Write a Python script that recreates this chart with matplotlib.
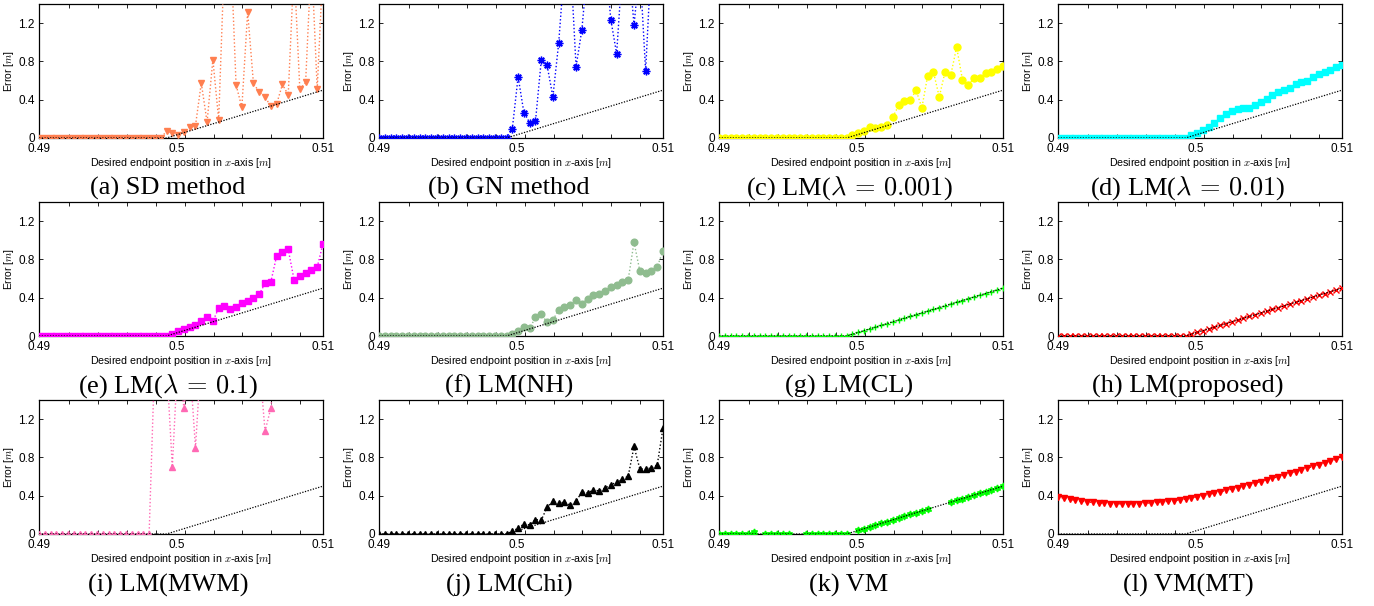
import numpy as np
import matplotlib
matplotlib.use("Agg")
import matplotlib.pyplot as plt

# ---------------- data ----------------
x_pos = np.linspace(0.49, 0.51, 50)          # desired endpoint positions
ref_x = [0.49, 0.49898, 0.51]                 # reference (black dotted) line
ref_y = [0.0, 0.0, 0.5]

sd_err = [0.0] * 22 + [0.07, 0.05, 0.035, 0.065, 0.11, 0.13, 0.575, 0.165, 0.82, 0.19,
                       1.9, 2.1, 0.555, 0.32, 1.32, 0.57, 0.48, 0.43, 0.33, 0.355,
                       0.56, 0.45, 1.8, 0.51, 0.58, 1.9, 0.51, 1.8]
gn_err = [0.0] * 22 + [0.005, 0.095, 0.64, 0.265, 0.16, 0.175, 0.815, 0.76, 0.43, 0.99,
                       1.8, 1.9, 0.745, 1.13, 1.8, 2.0, 2.1, 1.9, 1.235, 0.88,
                       1.8, 1.9, 1.18, 1.8, 0.70, 1.9, 2.0, 1.8]
lm001_err = [0.0] * 22 + [0.005, 0.03, 0.05, 0.077, 0.11, 0.10, 0.11, 0.14, 0.22, 0.34,
                          0.39, 0.395, 0.50, 0.315, 0.65, 0.69, 0.43, 0.69, 0.66, 0.95,
                          0.61, 0.55, 0.63, 0.625, 0.68, 0.69, 0.72, 0.755]
lm01_err = [0.0] * 22 + [0.0, 0.03, 0.055, 0.085, 0.115, 0.16, 0.21, 0.255, 0.28, 0.30,
                         0.31, 0.31, 0.345, 0.38, 0.41, 0.445, 0.48, 0.505, 0.52, 0.56,
                         0.58, 0.60, 0.64, 0.665, 0.69, 0.71, 0.74, 0.76]
lm1_err = [0.0] * 22 + [0.0, 0.02, 0.05, 0.075, 0.095, 0.12, 0.16, 0.195, 0.155, 0.29,
                        0.31, 0.28, 0.305, 0.34, 0.365, 0.40, 0.435, 0.55, 0.565, 0.835,
                        0.88, 0.905, 0.59, 0.63, 0.655, 0.685, 0.72, 0.965]
nh_err = [0.0] * 22 + [0.0, 0.025, 0.05, 0.09, 0.08, 0.195, 0.225, 0.145, 0.165, 0.275,
                       0.305, 0.32, 0.38, 0.335, 0.39, 0.43, 0.44, 0.475, 0.51, 0.535,
                       0.565, 0.59, 0.98, 0.68, 0.66, 0.68, 0.72, 0.89]
cl_err = [0.0] * 22 + [0.0, 0.019, 0.037, 0.056, 0.074, 0.093, 0.111, 0.130, 0.148, 0.167,
                       0.185, 0.204, 0.222, 0.241, 0.259, 0.278, 0.296, 0.315, 0.333, 0.352,
                       0.370, 0.389, 0.407, 0.426, 0.444, 0.463, 0.481, 0.500]
prop_err = [0.0] * 22 + [0.0, 0.019, 0.037, 0.056, 0.074, 0.093, 0.111, 0.130, 0.148, 0.167,
                         0.185, 0.204, 0.222, 0.241, 0.259, 0.278, 0.296, 0.315, 0.333, 0.352,
                         0.370, 0.389, 0.407, 0.426, 0.444, 0.463, 0.481, 0.500]
mwm_err = [0.0] * 20 + [1.9, 2.0, 1.8, 0.70, 1.9, 1.315, 1.8, 0.90, 1.9, 2.0,
                        2.1, 1.9, 2.0, 1.8, 2.1, 1.9, 2.0, 1.9, 1.8, 1.075,
                        1.315, 1.9, 2.0, 1.8, 2.1, 1.9, 2.0, 1.8, 1.9, 2.0]
chi_err = [0.0] * 22 + [0.0, 0.03, 0.06, 0.105, 0.095, 0.15, 0.145, 0.28, 0.34, 0.32,
                        0.335, 0.30, 0.34, 0.44, 0.43, 0.46, 0.45, 0.48, 0.515, 0.54,
                        0.57, 0.605, 0.915, 0.68, 0.68, 0.69, 0.72, 1.105]
nan = float("nan")
vm_err = [0.0, 0.0, 0.0, 0.0, 0.0, 0.0, 0.02, nan, 0.0, 0.0,
          0.0, 0.0, 0.0, nan, nan, 0.0, 0.0, 0.0, 0.0, 0.0,
          0.0, 0.0, 0.005, nan, 0.037, 0.056, 0.074, 0.093, 0.111, 0.130,
          0.148, 0.167, 0.185, 0.204, 0.222, 0.241, 0.259, nan, nan, nan,
          0.333, 0.352, 0.370, 0.389, 0.407, 0.426, 0.444, 0.463, 0.481, 0.500]
vmmt_err = [0.39, 0.375, 0.362, 0.352, 0.343, 0.336, 0.330, 0.325, 0.321, 0.318,
            0.316, 0.315, 0.315, 0.316, 0.318, 0.321, 0.325, 0.330, 0.335, 0.341,
            0.348, 0.356, 0.365, 0.376, 0.388, 0.40, 0.413, 0.427, 0.441, 0.455,
            0.47, 0.485, 0.50, 0.516, 0.532, 0.548, 0.565, 0.582, 0.599, 0.616,
            0.634, 0.652, 0.670, 0.688, 0.706, 0.724, 0.743, 0.762, 0.781, 0.80]

captions = ["(a) SD method", "(b) GN method", r"(c) LM($\lambda\,=\,0.001$)",
            r"(d) LM($\lambda\,=\,0.01$)", r"(e) LM($\lambda\,=\,0.1$)", "(f) LM(NH)",
            "(g) LM(CL)", "(h) LM(proposed)", "(i) LM(MWM)", "(j) LM(Chi)",
            "(k) VM", "(l) VM(MT)"]
series = [sd_err, gn_err, lm001_err, lm01_err, lm1_err, nh_err,
          cl_err, prop_err, mwm_err, chi_err, vm_err, vmmt_err]
colors = ["#FF7F50", "#0000FF", "#FFFF00", "#00FFFF", "#FF00FF", "#8FBC8F",
          "#00FF00", "#FF0000", "#FF69B4", "#000000", "#00FF00", "#FF0000"]
markers = ["v", (8, 2, 0), "o", "s", "s", "o", "+", "x", "^", "^", (6, 1, 0), "v"]
msizes = [5.0, 5.5, 5.0, 5.0, 5.0, 4.8, 4.5, 4.0, 4.5, 4.5, 5.0, 5.0]

x_ticks = [0.49, 0.4997, 0.51]
x_ticklabels = ["0.49", "0.5", "0.51"]
x_minor = [0.49209, 0.49413, 0.49617, 0.49821, 0.50025, 0.50229, 0.50433, 0.50637, 0.50841]
y_ticks = [0, 0.4, 0.8, 1.2]
y_ticklabels = ["0", "0.4", "0.8", "1.2"]

# ---------------- layout ----------------
W, H = 1374, 606
fig = plt.figure(figsize=(W / 100, H / 100), dpi=100)
plt.rcParams['font.family'] = ['Liberation Sans', 'DejaVu Sans']

col_left = [39, 379, 719, 1058]
row_top = [4, 202, 400]
ax_w, ax_h = 284, 134
cap_base = [195, 393, 592]
cap_cx = [168, 509, 849, 1188]

for k in range(12):
    r, c = divmod(k, 4)
    ax = fig.add_axes([col_left[c] / W, 1 - (row_top[r] + ax_h) / H, ax_w / W, ax_h / H])
    ax.plot(x_pos, series[k], linestyle=(0, (1, 1.6)), linewidth=1.0, color=colors[k],
            marker=markers[k], markersize=msizes[k], markerfacecolor=colors[k],
            markeredgecolor=colors[k], markeredgewidth=1.0, zorder=3, clip_on=True)
    ax.plot(ref_x, ref_y, linestyle=(0, (1, 1.2)), linewidth=0.9, color="black", zorder=4)
    ax.set_xlim(0.49, 0.51)
    ax.set_ylim(0, 1.4)
    ax.set_xticks(x_ticks)
    ax.set_xticklabels(x_ticklabels)
    ax.set_xticks(x_minor, minor=True)
    ax.set_yticks(y_ticks)
    ax.set_yticklabels(y_ticklabels)
    ax.tick_params(axis='x', which='major', length=0, labelsize=8.5, pad=3.6)
    ax.tick_params(axis='x', which='minor', direction='in', length=3, width=0.6,
                   top=True, bottom=True)
    ax.tick_params(axis='y', which='major', direction='in', length=3, width=0.6,
                   left=True, right=True, labelsize=8.5, pad=3)
    for sp in ax.spines.values():
        sp.set_linewidth(0.9)
    ax.set_xlabel(r"Desired endpoint position in $x$-axis [$m$]", fontsize=7.7,
                  labelpad=0.5, math_fontfamily='cm')
    ax.set_ylabel(r"Error [$m$]", fontsize=7.5, labelpad=1.5, math_fontfamily='cm')
    fig.text(cap_cx[c] / W, 1 - cap_base[r] / H, captions[k], ha='center', va='baseline',
             fontsize=19, family='Liberation Serif', math_fontfamily='cm')

fig.savefig("out.png", dpi=100)
